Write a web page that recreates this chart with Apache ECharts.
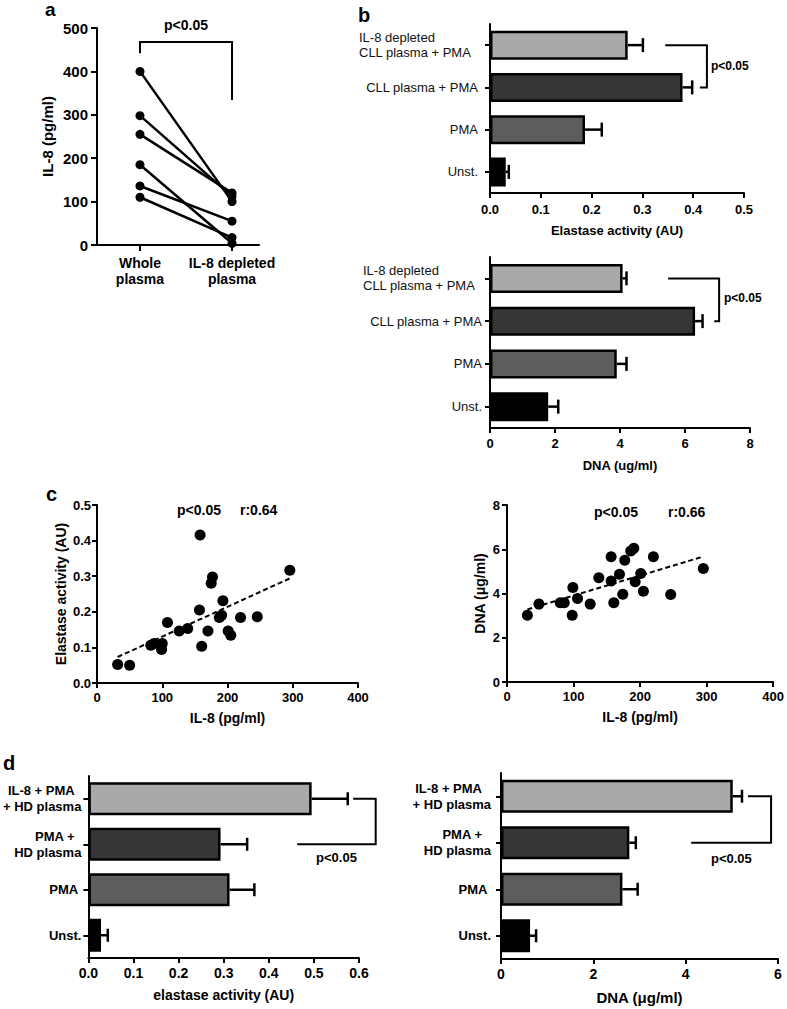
<!DOCTYPE html>
<html><head><meta charset="utf-8">
<script src="https://cdn.jsdelivr.net/npm/echarts@6/dist/echarts.min.js"></script>
<style>html,body{margin:0;padding:0;background:#fff}#c{width:787px;height:1009px}</style>
</head><body><div id="c"></div>
<script>
// ---------- Panel a ----------
const aCategories = ['Whole\nplasma', 'IL-8 depleted\nplasma'];
const aWhole = [400, 298, 255, 185, 136, 110];
const aDepleted = [100, 112, 120, 4, 55, 17];

// ---------- Panel b ----------
const bCategories = ['IL-8 depleted\nCLL plasma + PMA', 'CLL plasma + PMA', 'PMA', 'Unst.'];
const bElastase = [0.271, 0.379, 0.187, 0.031];
const bElastaseErr = [0.301, 0.398, 0.220, 0.037];
const bDNA = [4.08, 6.31, 3.90, 1.79];
const bDNAErr = [4.20, 6.54, 4.20, 2.10];

// ---------- Panel c ----------
const cIL8A = [31.6, 50, 82.5, 87.6, 99, 100, 108, 126, 139, 157, 158, 160.5, 170, 175, 177, 187.5, 191, 193, 201, 205, 220, 245.6, 295.5];
const cElastase = [0.052, 0.050, 0.106, 0.111, 0.094, 0.111, 0.170, 0.146, 0.153, 0.205, 0.416, 0.103, 0.146, 0.280, 0.298, 0.184, 0.190, 0.231, 0.146, 0.134, 0.184, 0.186, 0.317];
const cElastaseFitX = [31.6, 295.5];
const cElastaseFitY = [0.073, 0.294];
const cIL8B = [30.6, 48, 80, 86, 98, 99, 106, 125, 138, 156.5, 156.5, 160.5, 169, 174, 177, 186, 190.6, 192.6, 201, 205, 220, 246, 295];
const cDNA = [3.02, 3.52, 3.58, 3.58, 3.02, 4.27, 3.77, 3.52, 4.71, 5.66, 4.57, 3.58, 4.87, 3.97, 5.50, 5.92, 6.04, 4.53, 4.90, 4.10, 5.66, 3.95, 5.13];
const cDNAFitX = [30.6, 294];
const cDNAFitY = [3.28, 5.66];

// ---------- Panel d ----------
const dCategories = ['IL-8 + PMA\n+ HD plasma', 'PMA +\nHD plasma', 'PMA', 'Unst.'];
const dElastase = [0.495, 0.293, 0.313, 0.028];
const dElastaseErr = [0.575, 0.352, 0.368, 0.043];
const dDNA = [5.02, 2.78, 2.63, 0.63];
const dDNAErr = [5.22, 2.92, 2.96, 0.76];

const barColors = ['#a9a9a9', '#363636', '#5d5d5d', '#000000'];
const FONT = '"Liberation Sans", Arial, Helvetica, sans-serif';

function valAxis(gi, min, max, interval, o) {
  o = o || {};
  const ax = {
    type: 'value', gridIndex: gi, min: min, max: max,
    axisLine: { show: true, onZero: false, lineStyle: { color: '#000', width: 2 } },
    axisTick: { show: true, length: o.tickLen || 5, lineStyle: { color: '#000', width: 2 } },
    splitLine: { show: false },
    axisLabel: { color: '#000', fontFamily: FONT, fontWeight: 'bold', fontSize: o.fs || 13, margin: o.margin || 6 },
    name: o.name || '', nameLocation: 'middle', nameGap: o.nameGap || 30,
    nameTextStyle: { color: '#000', fontFamily: FONT, fontWeight: 'bold', fontSize: o.nfs || 13 }
  };
  if (interval != null) ax.interval = interval;
  if (o.fmt) ax.axisLabel.formatter = o.fmt;
  if (o.custom) {
    ax.axisTick.customValues = o.custom;
    ax.axisLabel.customValues = o.custom;
  }
  return ax;
}
function catAxis(gi, cats, o) {
  return {
    type: 'category', gridIndex: gi, data: cats, inverse: true,
    axisLine: { show: true, onZero: false, lineStyle: { color: '#000', width: 2 } },
    axisTick: { show: true, alignWithLabel: true, length: 5, lineStyle: { color: '#000', width: 2 } },
    splitLine: { show: false },
    axisLabel: { color: o.color || '#000', fontFamily: FONT, fontWeight: o.weight || 'normal', fontSize: o.fs || 13,
      margin: o.margin, formatter: o.fmt, rich: o.rich, lineHeight: o.lh || 15 }
  };
}
const fix1 = v => v.toFixed(1);

function barSeries(gi, vals, bw) {
  return {
    type: 'bar', xAxisIndex: gi, yAxisIndex: gi, barWidth: bw, z: 3,
    data: vals.map((v, i) => ({ value: v, itemStyle: { color: barColors[i] } })),
    itemStyle: { borderColor: '#000', borderWidth: 2.5 }
  };
}
function errSeries(gi, vals, errs, cap) {
  return {
    type: 'custom', xAxisIndex: gi, yAxisIndex: gi, z: 5, clip: false, silent: true,
    data: vals.map((v, i) => [errs[i], i, v]),
    encode: { x: [0, 2], y: 1 },
    renderItem: function (params, api) {
      const c = api.value(1);
      const a = api.coord([api.value(2), c]);
      const b = api.coord([api.value(0), c]);
      return { type: 'group', children: [
        { type: 'line', shape: { x1: a[0], y1: a[1], x2: b[0], y2: b[1] }, style: { stroke: '#000', lineWidth: 2.5 } },
        { type: 'line', shape: { x1: b[0], y1: b[1] - cap, x2: b[0], y2: b[1] + cap }, style: { stroke: '#000', lineWidth: 2.5 } }
      ]};
    }
  };
}
// brackets: points in data units; for category axes a fractional category is interpolated between neighbours
function bracketSeries(gi, pts, labelPos, fs, align, catIsY) {
  return {
    type: 'custom', xAxisIndex: gi, yAxisIndex: gi, z: 6, clip: false, silent: true,
    data: [[labelPos[0], Math.floor(labelPos[1])]],
    renderItem: function (params, api) {
      const toPx = q => {
        if (!catIsY) return api.coord(q);
        const k = Math.floor(q[1]), f = q[1] - k;
        const p0 = api.coord([q[0], k]);
        if (f === 0) return p0;
        const p1 = api.coord([q[0], k + 1]);
        return [p0[0], p0[1] + (p1[1] - p0[1]) * f];
      };
      const p = pts.map(toPx);
      const t = toPx(labelPos);
      return { type: 'group', children: [
        { type: 'polyline', shape: { points: p }, style: { stroke: '#000', lineWidth: 2, fill: null } },
        { type: 'text', x: t[0], y: t[1], style: { text: 'p<0.05', fill: '#000', font: 'bold ' + fs + 'px ' + FONT, align: align, verticalAlign: 'middle' } }
      ]};
    }
  };
}

const grids = [
  { left: 97, top: 28, width: 162, height: 217 },
  { left: 490, top: 24, width: 254, height: 169 },
  { left: 490, top: 257, width: 260, height: 171 },
  { left: 97, top: 505, width: 261, height: 178 },
  { left: 507, top: 505, width: 270, height: 177 },
  { left: 87, top: 776, width: 272, height: 182 },
  { left: 501, top: 773, width: 277, height: 186 }
];

const bRich = { l: { width: 119, align: 'left', fontFamily: FONT, fontSize: 13, color: '#111', lineHeight: 15 } };
const bFmt = (v, i) => i === 0 ? v.split('\n').map(s => '{l|' + s + '}').join('\n') : v;

function dFmt(padKey1, padKey2) {
  return (v, i) => {
    if (i <= 1) { const s = v.split('\n'); return '{' + padKey1 + '|' + s[0] + '}\n{n|' + s[1] + '}'; }
    if (i === 2) return '{' + padKey2 + '|' + v + '}';
    return '{n|' + v + '}';
  };
}
function dRich(p1, p2) {
  const base = { fontFamily: FONT, fontSize: 13, fontWeight: 'bold', color: '#000', lineHeight: 16 };
  return {
    n: Object.assign({}, base),
    p: Object.assign({ padding: [0, p1, 0, 0] }, base),
    q: Object.assign({ padding: [0, p2, 0, 0] }, base)
  };
}

const xAxes = [
  valAxis(0, -0.467, 1.293, null, { custom: [0, 1], fmt: v => aCategories[Math.round(v)], fs: 14, margin: 10 }),
  valAxis(1, 0, 0.5, 0.1, { fmt: fix1, margin: 10, name: 'Elastase activity (AU)', nameGap: 31 }),
  valAxis(2, 0, 8, 2, { margin: 9, name: 'DNA (ug/ml)', nameGap: 31 }),
  valAxis(3, 0, 400, 100, { margin: 8, name: 'IL-8 (pg/ml)', nameGap: 28, nfs: 14 }),
  valAxis(4, 0, 400, 100, { margin: 8, name: 'IL-8 (pg/ml)', nameGap: 28, nfs: 14 }),
  valAxis(5, 0, 0.6, 0.1, { fmt: fix1, margin: 8, fs: 14, name: 'elastase activity (AU)', nameGap: 30, nfs: 14 }),
  valAxis(6, 0, 6, 2, { margin: 8, fs: 14, name: 'DNA (μg/ml)', nameGap: 31, nfs: 15 })
];
xAxes[0].axisLabel.lineHeight = 16;
xAxes[0].axisTick.length = 6;

const yAxes = [
  valAxis(0, 0, 500, 100, { fs: 15, margin: 9, tickLen: 6, name: 'IL-8 (pg/ml)', nameGap: 42, nfs: 15 }),
  catAxis(1, bCategories, { margin: 12, fmt: bFmt, rich: bRich, color: '#111' }),
  catAxis(2, bCategories, { margin: 8, fmt: bFmt, rich: bRich, color: '#111' }),
  valAxis(3, 0, 0.5, 0.1, { fmt: fix1, margin: 6, name: 'Elastase activity (AU)', nameGap: 29, nfs: 14 }),
  valAxis(4, 0, 8, 2, { margin: 7, name: 'DNA (μg/ml)', nameGap: 20, nfs: 14 }),
  catAxis(5, dCategories, { margin: 7, weight: 'bold', fmt: dFmt('p', 'q'), rich: dRich(6.7, 3.3), lh: 16 }),
  catAxis(6, dCategories, { margin: 10, weight: 'bold', fmt: dFmt('p', 'q'), rich: dRich(9, 3.5), lh: 16 })
];

const series = [];
// Panel a
aWhole.forEach((w, i) => {
  series.push({
    type: 'line', xAxisIndex: 0, yAxisIndex: 0, data: [[0, w], [1, aDepleted[i]]],
    symbol: 'circle', symbolSize: 9, lineStyle: { color: '#000', width: 2.5 }, itemStyle: { color: '#000', opacity: 1 }, z: 3
  });
});
series.push(bracketSeries(0, [[0, 442], [0, 468], [1, 468], [1, 334]], [0.5, 508], 14, 'center', false));
// Panel b
series.push(barSeries(1, bElastase, 29), errSeries(1, bElastase, bElastaseErr, 7));
series.push(bracketSeries(1, [[0.345, 0], [0.427, 0], [0.427, 1], [0.413, 1]], [0.435, 0.5], 12, 'left', true));
series.push(barSeries(2, bDNA, 29), errSeries(2, bDNA, bDNAErr, 7));
series.push(bracketSeries(2, [[5.48, 0], [7.05, 0], [7.05, 1], [6.9, 1]], [7.2, 0.45], 12, 'left', true));
// Panel c
series.push({ type: 'scatter', xAxisIndex: 3, yAxisIndex: 3, symbolSize: 11, itemStyle: { color: '#000', opacity: 1 },
  data: cIL8A.map((x, i) => [x, cElastase[i]]), z: 4 });
series.push({ type: 'line', xAxisIndex: 3, yAxisIndex: 3, symbol: 'none', z: 3,
  lineStyle: { color: '#000', width: 2, type: [5, 3] }, data: cElastaseFitX.map((x, i) => [x, cElastaseFitY[i]]) });
series.push({ type: 'scatter', xAxisIndex: 4, yAxisIndex: 4, symbolSize: 11, itemStyle: { color: '#000', opacity: 1 },
  data: cIL8B.map((x, i) => [x, cDNA[i]]), z: 4 });
series.push({ type: 'line', xAxisIndex: 4, yAxisIndex: 4, symbol: 'none', z: 3,
  lineStyle: { color: '#000', width: 2, type: [5, 3] }, data: cDNAFitX.map((x, i) => [x, cDNAFitY[i]]) });
// Panel d
series.push(barSeries(5, dElastase, 33), errSeries(5, dElastase, dElastaseErr, 6.5));
series.push(bracketSeries(5, [[0.587, 0], [0.637, 0], [0.637, 1], [0.463, 1]], [0.55, 1.3], 13, 'center', true));
series.push(barSeries(6, dDNA, 33), errSeries(6, dDNA, dDNAErr, 6.5));
series.push(bracketSeries(6, [[5.35, 0], [5.85, 0], [5.85, 1], [4.12, 1]], [4.99, 1.33], 13, 'center', true));

function txt(x, y, s, size, va) {
  return { type: 'text', x: x, y: y, silent: true,
    style: { text: s, fill: '#000', font: 'bold ' + size + 'px ' + FONT, align: 'left', verticalAlign: va || 'middle' } };
}
const graphic = [
  txt(45, 0, 'a', 19, 'top'), txt(358, 15, 'b', 20), txt(46, 494, 'c', 20), txt(3, 763, 'd', 20),
  txt(177, 510, 'p<0.05', 14), txt(240, 510, 'r:0.64', 14),
  txt(594, 512, 'p<0.05', 14), txt(668, 512, 'r:0.66', 14)
];

const chart = echarts.init(document.getElementById('c'), null, { renderer: 'svg' });
chart.setOption({
  animation: false,
  backgroundColor: '#fff',
  grid: grids,
  xAxis: xAxes,
  yAxis: yAxes,
  series: series,
  graphic: graphic
});
</script>
</body></html>
